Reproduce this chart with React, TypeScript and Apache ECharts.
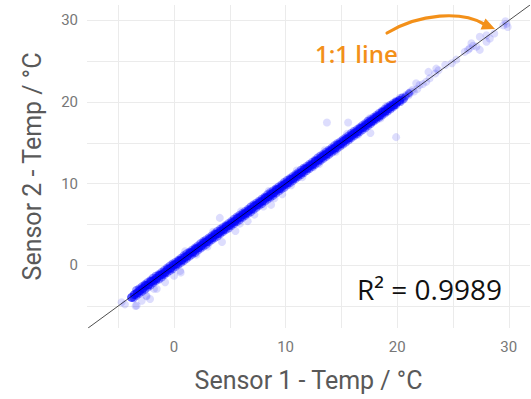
import React, { useEffect, useRef } from "react";
import * as echarts from "echarts";

const xTickLabels = [0, 10, 20, 30];
const yTickLabels = [0, 10, 20, 30];
const xGridValues = [-5, 0, 5, 10, 15, 20, 25, 30];
const yGridValues = [-5, 0, 5, 10, 15, 20, 25, 30];
const xRange = [-7.8, 31.9];
const yRange = [-7.7, 31.9];
const oneToOne = [[-7.7, -7.7], [31.9, 31.9]];

// dense core of the point cloud (many overlapping readings)
const bandCore = [
  [-3.8, -3.95], [-3.55, -3.6], [-3.3, -3.4], [-3.05, -3.1], [-2.8, -2.85], [-2.55, -2.5], [-2.3, -2.4], [-2.05, -2.0],
  [-1.8, -1.85], [-1.55, -1.6], [-1.3, -1.25], [-1.05, -1.1], [-0.8, -0.85], [-0.55, -0.5], [-0.3, -0.35], [-0.05, 0.0],
  [0.2, 0.15], [0.45, 0.5], [0.7, 0.65], [0.95, 0.95], [1.2, 1.15], [1.45, 1.5], [1.7, 1.65], [1.95, 2.0],
  [2.2, 2.15], [2.45, 2.4], [2.7, 2.75], [2.95, 2.9], [3.2, 3.2], [3.45, 3.4], [3.7, 3.75], [3.95, 3.9],
  [4.2, 4.2], [4.45, 4.4], [4.7, 4.75], [4.95, 4.9], [5.2, 5.2], [5.45, 5.4], [5.7, 5.75], [5.95, 5.9],
  [6.2, 6.2], [6.45, 6.4], [6.7, 6.7], [6.95, 6.9], [7.2, 7.25], [7.45, 7.4], [7.7, 7.7], [7.95, 7.9],
  [8.2, 8.25], [8.45, 8.4], [8.7, 8.7], [8.95, 8.9], [9.2, 9.25], [9.45, 9.4], [9.7, 9.7], [9.95, 9.95],
  [10.2, 10.15], [10.45, 10.5], [10.7, 10.65], [10.95, 10.95], [11.2, 11.2], [11.45, 11.4], [11.7, 11.75], [11.95, 11.9],
  [12.2, 12.2], [12.45, 12.4], [12.7, 12.75], [12.95, 12.9], [13.2, 13.2], [13.45, 13.45], [13.7, 13.65], [13.95, 13.95],
  [14.2, 14.2], [14.45, 14.4], [14.7, 14.75], [14.95, 14.9], [15.2, 15.2], [15.45, 15.45], [15.7, 15.65], [15.95, 15.95],
  [16.2, 16.2], [16.45, 16.4], [16.7, 16.75], [16.95, 16.9], [17.2, 17.2], [17.45, 17.45], [17.7, 17.65], [17.95, 17.95],
  [18.2, 18.2], [18.45, 18.4], [18.7, 18.75], [18.95, 18.9], [19.2, 19.2], [19.45, 19.45], [19.7, 19.65], [19.95, 19.95],
  [20.2, 20.2]
];

const bandUpper = [
  [-3.4, -3.05], [-2.9, -2.6], [-2.4, -2.1], [-1.9, -1.55], [-1.4, -1.1], [-0.9, -0.6], [-0.4, -0.05], [0.1, 0.4],
  [0.6, 0.9], [1.1, 1.45], [1.6, 1.9], [2.1, 2.4], [2.6, 2.95], [3.1, 3.4], [3.6, 3.9], [4.1, 4.45],
  [4.6, 4.9], [5.1, 5.4], [5.6, 5.95], [6.1, 6.4], [6.6, 6.9], [7.1, 7.45], [7.6, 7.9], [8.1, 8.4],
  [8.6, 8.95], [9.1, 9.4], [9.6, 9.9], [10.1, 10.45], [10.6, 10.9], [11.1, 11.4], [11.6, 11.95], [12.1, 12.4],
  [12.6, 12.9], [13.1, 13.45], [13.6, 13.9], [14.1, 14.4], [14.6, 14.95], [15.1, 15.4], [15.6, 15.9], [16.1, 16.45],
  [16.6, 16.9], [17.1, 17.4], [17.6, 17.9], [18.1, 18.4], [18.6, 18.9], [19.1, 19.4], [19.6, 19.85],
  [-3.15, -2.85], [-2.65, -2.35], [-2.15, -1.85], [-1.65, -1.3], [-1.15, -0.85], [-0.65, -0.3], [-0.15, 0.2], [0.35, 0.65],
  [0.85, 1.2], [1.35, 1.65], [1.85, 2.15], [2.35, 2.7], [2.85, 3.15], [3.35, 3.65], [3.85, 4.2], [4.35, 4.65],
  [4.85, 5.15], [5.35, 5.7], [5.85, 6.15], [6.35, 6.65], [6.85, 7.2], [7.35, 7.65], [7.85, 8.15], [8.35, 8.7],
  [8.85, 9.15], [9.35, 9.65], [9.85, 10.2], [10.35, 10.65], [10.85, 11.15], [11.35, 11.7], [11.85, 12.15], [12.35, 12.65],
  [12.85, 13.2], [13.35, 13.65], [13.85, 14.15], [14.35, 14.7], [14.85, 15.15], [15.35, 15.65], [15.85, 16.2], [16.35, 16.65],
  [16.85, 17.15], [17.35, 17.7], [17.85, 18.15], [18.35, 18.65], [18.85, 19.15], [19.35, 19.65], [19.85, 20.1],
  [20.45, 20.55], [20.75, 20.7], [21.05, 21.1]
];

const bandLower = [
  [-3.6, -4.05], [-3.1, -3.5], [-2.6, -3.0], [-2.1, -2.5], [-1.6, -1.95], [-1.1, -1.5], [-0.6, -0.95], [-0.1, -0.5],
  [0.4, 0.05], [0.9, 0.5], [1.4, 1.05], [1.9, 1.5], [2.4, 2.05], [2.9, 2.5], [3.4, 3.05], [3.9, 3.5],
  [4.4, 4.05], [4.9, 4.5], [5.4, 5.05], [5.9, 5.5], [6.4, 6.05], [6.9, 6.5], [7.4, 7.05], [7.9, 7.5],
  [8.4, 8.05], [8.9, 8.5], [9.4, 9.05], [9.9, 9.5], [10.4, 10.05], [10.9, 10.55], [11.4, 11.05], [11.9, 11.55],
  [12.4, 12.05], [12.9, 12.55], [13.4, 13.05], [13.9, 13.55], [14.4, 14.05], [14.9, 14.55], [15.4, 15.05], [15.9, 15.55],
  [16.4, 16.05], [16.9, 16.55], [17.4, 17.05], [17.9, 17.6], [18.4, 18.1], [18.9, 18.6], [19.4, 19.1], [19.9, 19.6],
  [-3.35, -3.75], [-2.85, -3.25], [-2.35, -2.75], [-1.85, -2.2], [-1.35, -1.75], [-0.85, -1.2], [-0.35, -0.7], [0.15, -0.2],
  [0.65, 0.3], [1.15, 0.8], [1.65, 1.3], [2.15, 1.8], [2.65, 2.3], [3.15, 2.8], [3.65, 3.3], [4.15, 3.8],
  [4.65, 4.3], [5.15, 4.8], [5.65, 5.3], [6.15, 5.8], [6.65, 6.3], [7.15, 6.8], [7.65, 7.3], [8.15, 7.8],
  [8.65, 8.3], [9.15, 8.8], [9.65, 9.3], [10.15, 9.8], [10.65, 10.3], [11.15, 10.8], [11.65, 11.3], [12.15, 11.8],
  [12.65, 12.3], [13.15, 12.8], [13.65, 13.3], [14.15, 13.8], [14.65, 14.3], [15.15, 14.8], [15.65, 15.3], [16.15, 15.8],
  [16.65, 16.3], [17.15, 16.8], [17.65, 17.3], [18.15, 17.85], [18.65, 18.35], [19.15, 18.85], [19.65, 19.35],
  [20.3, 20.0], [20.6, 20.35]
];

// individual (faint) readings: band edges, outliers and the warm end
const sparsePoints = [
  [13.7, 17.5], [15.6, 17.5], [17.6, 16.2], [19.9, 15.7], [4.1, 5.8], [4.3, 2.85], [0.6, -0.9], [0.0, -1.3],
  [-4.4, -4.8], [-4.7, -4.55], [-3.45, -5.0], [-3.35, -4.95], [-2.5, -3.75], [-2.45, -3.8], [-1.8, -2.9], [-1.55, -2.9],
  [-2.15, -4.15], [-2.9, -4.35], [-0.8, -2.1], [0.55, -0.7], [7.2, 6.2], [8.7, 7.4], [9.7, 8.7], [6.6, 5.4],
  [5.5, 4.2], [2.0, 1.3], [3.0, 2.3], [5.9, 5.1], [8.0, 7.2], [9.0, 8.2], [10.5, 9.8], [11.5, 10.8],
  [12.5, 12.0], [13.0, 12.4], [14.5, 13.9], [16.5, 16.0], [18.5, 18.0], [1.0, 1.7], [3.5, 4.1], [6.0, 6.6],
  [8.5, 9.1], [11.0, 11.6], [13.5, 14.1], [15.5, 16.1], [17.5, 18.0], [19.0, 19.5],
  [20.2, 20.5], [20.5, 20.3], [20.8, 20.9], [21.0, 20.8], [21.2, 21.3], [21.4, 21.5], [21.7, 22.3], [21.8, 21.6],
  [22.0, 22.1], [22.3, 22.2], [22.6, 22.5], [22.8, 23.7], [22.9, 22.9], [23.4, 23.5], [23.5, 24.1], [23.7, 23.9],
  [24.3, 24.55], [24.9, 24.75], [25.3, 25.2], [26.05, 26.15], [26.35, 26.4], [26.65, 27.2], [27.1, 26.8], [27.4, 26.4],
  [27.4, 28.0], [28.0, 27.4], [28.0, 28.2], [28.3, 27.8], [28.7, 28.4], [29.5, 29.4], [29.8, 29.6], [29.9, 29.2],
  [20.4, 20.6], [20.6, 20.5], [21.1, 21.0], [21.5, 21.3], [26.5, 26.6], [26.8, 26.9], [29.7, 29.9]
];

export default function App() {
  const ref = useRef<HTMLDivElement>(null);
  useEffect(() => {
    if (!ref.current) return;
    const chart = echarts.init(ref.current, undefined, { renderer: "svg" });
    const gridLineData = [
      ...xGridValues.map((v) => ({ xAxis: v })),
      ...yGridValues.map((v) => ({ yAxis: v })),
    ];
    chart.setOption({
      animation: false,
      backgroundColor: "#ffffff",
      textStyle: { fontFamily: "Roboto" },
      grid: { left: 87, right: 1, top: 5, bottom: 71, containLabel: false },
      xAxis: {
        type: "value",
        min: xRange[0],
        max: xRange[1],
        name: "Sensor 1 - Temp / °C",
        nameLocation: "middle",
        nameGap: 40,
        nameTextStyle: { fontSize: 25, color: "#595959", fontFamily: "Roboto" },
        axisLine: { show: false },
        axisTick: { show: false },
        splitLine: { show: false },
        axisLabel: {
          customValues: xTickLabels,
          fontSize: 15,
          color: "#777777",
          margin: 11,
          fontFamily: "Roboto",
        },
      },
      yAxis: {
        type: "value",
        min: yRange[0],
        max: yRange[1],
        name: "Sensor 2 - Temp / °C",
        nameLocation: "middle",
        nameGap: 42,
        nameTextStyle: { fontSize: 25, color: "#595959", fontFamily: "Roboto" },
        axisLine: { show: false },
        axisTick: { show: false },
        splitLine: { show: false },
        axisLabel: {
          customValues: yTickLabels,
          fontSize: 15,
          color: "#777777",
          margin: 9,
          fontFamily: "Roboto",
        },
      },
      series: [
        {
          name: "gridlines",
          type: "scatter",
          data: [],
          z: 1,
          silent: true,
          markLine: {
            z: 1,
            silent: true,
            symbol: ["none", "none"],
            label: { show: false },
            lineStyle: { color: "#ebebeb", width: 1, type: "solid" },
            emphasis: { disabled: true },
            data: gridLineData,
          },
        },
        {
          name: "readings",
          type: "scatter",
          z: 3,
          symbol: "circle",
          symbolSize: 8,
          itemStyle: { color: "rgba(20,20,240,0.18)" },
          data: sparsePoints,
        },
        {
          name: "band-lower",
          type: "scatter",
          z: 3,
          symbol: "circle",
          symbolSize: 8,
          itemStyle: { color: "rgba(0,0,255,0.5)" },
          data: bandLower,
        },
        {
          name: "band-upper",
          type: "scatter",
          z: 3,
          symbol: "circle",
          symbolSize: 8,
          itemStyle: { color: "rgba(0,0,255,0.5)" },
          data: bandUpper,
        },
        {
          name: "band-core",
          type: "scatter",
          z: 3,
          symbol: "circle",
          symbolSize: 9,
          itemStyle: { color: "rgba(0,0,255,0.85)" },
          data: bandCore,
        },
        {
          name: "1:1 line",
          type: "line",
          z: 5,
          symbol: "none",
          silent: true,
          lineStyle: { color: "#000000", width: 0.7 },
          data: oneToOne,
        },
      ],
      graphic: [
        {
          type: "text",
          x: 315,
          y: 53,
          z: 10,
          style: {
            text: "1:1 line",
            fill: "#f39019",
            font: '600 24px "Open Sans"',
            textAlign: "left",
            textVerticalAlign: "middle",
            align: "left",
            verticalAlign: "middle",
          },
        },
        {
          type: "bezierCurve",
          z: 10,
          shape: { x1: 387, y1: 33, cpx1: 420, cpy1: 13, cpx2: 462, cpy2: 11, x2: 484, y2: 24 },
          style: { stroke: "#f39019", lineWidth: 3.2, fill: null, lineCap: "round" },
        },
        {
          type: "polygon",
          z: 10,
          shape: { points: [[495, 29], [485.5, 18.5], [480.5, 29.5]] },
          style: { fill: "#f39019" },
        },
        {
          type: "text",
          x: 357,
          y: 289,
          z: 10,
          style: {
            text: "R² = 0.9989",
            fill: "#111111",
            font: '28px "Open Sans"',
            textAlign: "left",
            textVerticalAlign: "middle",
            align: "left",
            verticalAlign: "middle",
          },
        },
      ],
    });
    return () => chart.dispose();
  }, []);
  return <div ref={ref} style={{ width: 531, height: 399, position: "absolute", left: 0, top: 0 }} />;
}
